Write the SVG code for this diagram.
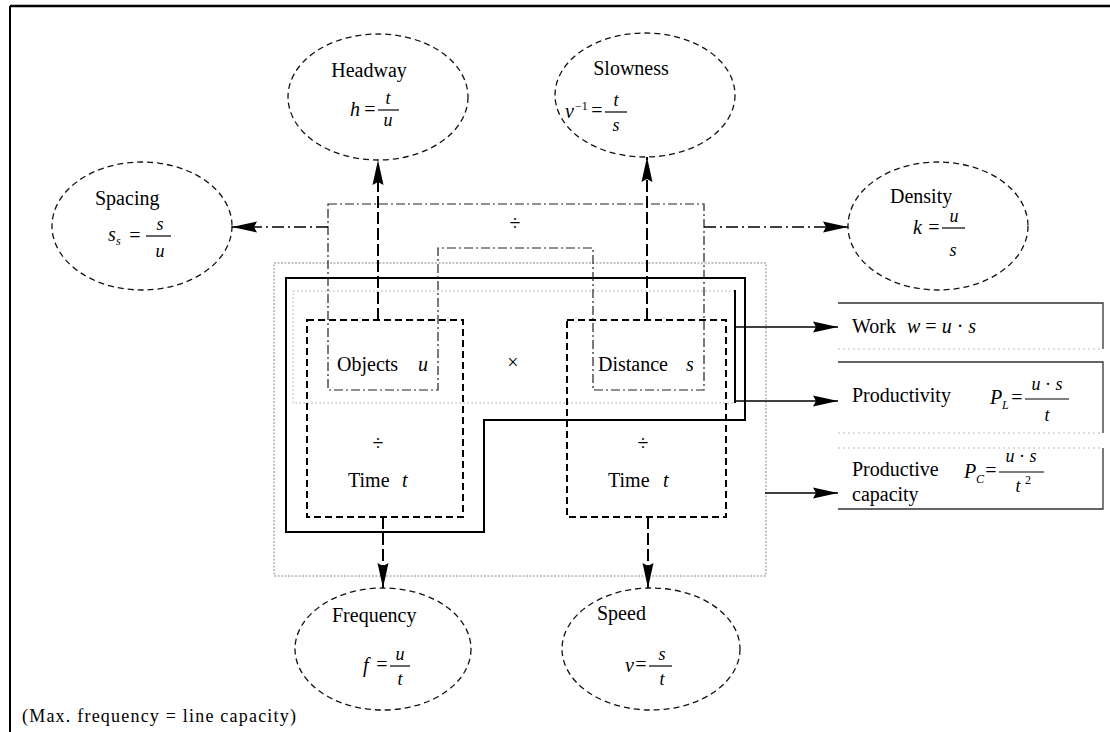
<svg xmlns="http://www.w3.org/2000/svg" width="1110" height="732" viewBox="0 0 1110 732">
<style>
text{font-family:"Liberation Serif","Times New Roman",serif;fill:#000}
.lbl{font-size:20px}
.op{font-size:20px}
.i{font-style:italic}
.var{font-size:20px;font-style:italic}
.sm{font-size:18px;font-style:italic}
.sub{font-size:12px;font-style:italic}
.ell{fill:none;stroke:#111;stroke-width:1.3;stroke-dasharray:6 4}
.bar{stroke:#000;stroke-width:1.2}
.dbox{fill:none;stroke:#000;stroke-width:2;stroke-dasharray:7 4}
.ddot{fill:none;stroke:#222;stroke-width:1.2;stroke-dasharray:9 3 2 3}
.thick{fill:none;stroke:#000;stroke-width:2}
.dashc{fill:none;stroke:#000;stroke-width:2;stroke-dasharray:12 4}
.ddc{fill:none;stroke:#000;stroke-width:1.6;stroke-dasharray:12 4 2 4}
.sol{fill:none;stroke:#000;stroke-width:1.6}
</style>
<defs>
<marker id="ah" markerUnits="userSpaceOnUse" markerWidth="26" markerHeight="12" refX="25" refY="6" orient="auto">
<path d="M0,0.5 L25,6 L0,11.5 L3,6 z" fill="#000"/>
</marker>
</defs>
<rect x="0" y="0" width="1110" height="732" fill="#fff"/>
<g id="frame">
<line x1="10" y1="6" x2="1110" y2="6" stroke="#000" stroke-width="2.5"/>
<line x1="10" y1="6" x2="10" y2="732" stroke="#000" stroke-width="2"/>
</g>
<g id="core">
<rect x="274" y="263" width="492" height="313" fill="none" stroke="#888" stroke-width="1" stroke-dasharray="2 1.5"/>
<rect x="293" y="291" width="442" height="112" fill="none" stroke="#aaa" stroke-width="1" stroke-dasharray="1.5 2.5"/>
<path class="thick" d="M286,278 H745 V420 H484 V532 H286 Z"/>
<line x1="735" y1="290" x2="735" y2="403" class="thick"/>
<path class="ddot" d="M328,204 H704 V390 H593 V248 H438 V390 H328 Z"/>
<text x="515" y="230" class="op" text-anchor="middle">÷</text>
</g>
<g id="objects">
<rect class="dbox" x="307" y="320" width="156" height="197"/>
<text x="337" y="371" class="lbl">Objects</text>
<text x="418" y="371" class="var">u</text>
<text x="378" y="450" class="op" text-anchor="middle">÷</text>
<text x="348" y="487" class="lbl">Time</text>
<text x="402" y="487" class="var">t</text>
</g>
<text x="513" y="369" class="op" text-anchor="middle">×</text>
<g id="distance">
<rect class="dbox" x="567" y="320" width="159" height="197"/>
<text x="598" y="371" class="lbl">Distance</text>
<text x="686" y="371" class="var">s</text>
<text x="643" y="450" class="op" text-anchor="middle">÷</text>
<text x="608" y="487" class="lbl">Time</text>
<text x="663" y="487" class="var">t</text>
</g>
<g id="connectors">
<line class="dashc" x1="378" y1="320" x2="378" y2="160" marker-end="url(#ah)"/>
<line class="dashc" x1="647" y1="320" x2="647" y2="157" marker-end="url(#ah)"/>
<line class="dashc" x1="383" y1="517" x2="383" y2="588" marker-end="url(#ah)"/>
<line class="dashc" x1="648" y1="517" x2="648" y2="588" marker-end="url(#ah)"/>
<line class="ddc" x1="328" y1="227" x2="232" y2="227" marker-end="url(#ah)"/>
<line class="ddc" x1="704" y1="227" x2="848" y2="227" marker-end="url(#ah)"/>
<line class="sol" x1="735" y1="327" x2="838" y2="327" marker-end="url(#ah)"/>
<line class="sol" x1="735" y1="401" x2="838" y2="401" marker-end="url(#ah)"/>
<line class="sol" x1="765" y1="493" x2="838" y2="493" marker-end="url(#ah)"/>
</g>
<g id="headway">
<ellipse class="ell" cx="378" cy="97" rx="90" ry="63"/>
<text x="369" y="77" class="lbl" text-anchor="middle">Headway</text>
<text x="350" y="116" class="var">h</text>
<text x="370" y="116" class="op" text-anchor="middle">=</text>
<line class="bar" x1="378" y1="110" x2="399" y2="110"/>
<text x="388" y="104" class="sm" text-anchor="middle">t</text>
<text x="388" y="126" class="sm" text-anchor="middle">u</text>
</g>
<g id="slowness">
<ellipse class="ell" cx="645" cy="95" rx="90" ry="62"/>
<text x="631" y="75" class="lbl" text-anchor="middle">Slowness</text>
<text x="565" y="118" class="var">v</text>
<text x="575" y="110" class="sub" style="font-style:normal">−1</text>
<text x="597" y="117" class="op" text-anchor="middle">=</text>
<line class="bar" x1="605" y1="112" x2="627" y2="112"/>
<text x="616" y="106" class="sm" text-anchor="middle">t</text>
<text x="616" y="131" class="sm" text-anchor="middle">s</text>
</g>
<g id="spacing">
<ellipse class="ell" cx="142" cy="226" rx="90" ry="64"/>
<text x="95" y="205" class="lbl">Spacing</text>
<text x="108" y="241" class="var">s</text>
<text x="116" y="245" class="sub">s</text>
<text x="135" y="242" class="op" text-anchor="middle">=</text>
<line class="bar" x1="146" y1="236" x2="171" y2="236"/>
<text x="160" y="230" class="sm" text-anchor="middle">s</text>
<text x="160" y="257" class="sm" text-anchor="middle">u</text>
</g>
<g id="density">
<ellipse class="ell" cx="938" cy="226" rx="90" ry="64"/>
<text x="890" y="203" class="lbl">Density</text>
<text x="913" y="234" class="var">k</text>
<text x="934" y="234" class="op" text-anchor="middle">=</text>
<line class="bar" x1="942" y1="228" x2="965" y2="228"/>
<text x="954" y="222" class="sm" text-anchor="middle">u</text>
<text x="953" y="256" class="sm" text-anchor="middle">s</text>
</g>
<g id="frequency">
<ellipse class="ell" cx="383" cy="649" rx="88" ry="61"/>
<text x="332" y="622" class="lbl">Frequency</text>
<text x="363" y="672" class="var">f</text>
<text x="382" y="671" class="op" text-anchor="middle">=</text>
<line class="bar" x1="390" y1="666" x2="410" y2="666"/>
<text x="400" y="660" class="sm" text-anchor="middle">u</text>
<text x="400" y="685" class="sm" text-anchor="middle">t</text>
</g>
<g id="speed">
<ellipse class="ell" cx="651" cy="649" rx="89" ry="61"/>
<text x="597" y="620" class="lbl">Speed</text>
<text x="625" y="672" class="var">v</text>
<text x="641" y="671" class="op" text-anchor="middle">=</text>
<line class="bar" x1="649" y1="666" x2="672" y2="666"/>
<text x="662" y="660" class="sm" text-anchor="middle">s</text>
<text x="662" y="685" class="sm" text-anchor="middle">t</text>
</g>
<g id="work">
<path d="M838,303 H1103 V349" fill="none" stroke="#333" stroke-width="1.3"/>
<line x1="838" y1="349" x2="1103" y2="349" stroke="#bbb" stroke-width="1" stroke-dasharray="2 3"/>
<text x="852" y="333" class="lbl">Work</text>
<text x="907" y="333" class="lbl"><tspan class="i">w</tspan> = <tspan class="i">u</tspan> · <tspan class="i">s</tspan></text>
</g>
<g id="productivity">
<path d="M838,362 H1103 V433" fill="none" stroke="#333" stroke-width="1.3"/>
<line x1="838" y1="433" x2="1103" y2="433" stroke="#bbb" stroke-width="1" stroke-dasharray="2 3"/>
<text x="852" y="402" class="lbl">Productivity</text>
<text x="990" y="404" class="var">P</text>
<text x="1002" y="409" class="sub">L</text>
<text x="1017" y="404" class="op" text-anchor="middle">=</text>
<line class="bar" x1="1025" y1="399" x2="1069" y2="399"/>
<text x="1047" y="390" class="sm" text-anchor="middle">u<tspan style="font-style:normal"> · </tspan>s</text>
<text x="1047" y="421" class="sm" text-anchor="middle">t</text>
</g>
<g id="capacity">
<line x1="838" y1="448" x2="1103" y2="448" stroke="#bbb" stroke-width="1" stroke-dasharray="2 3"/>
<path d="M1103,448 V509 H838" fill="none" stroke="#333" stroke-width="1.3"/>
<text x="852" y="476" class="lbl">Productive</text>
<text x="852" y="501" class="lbl">capacity</text>
<text x="964" y="478" class="var">P</text>
<text x="976" y="483" class="sub">C</text>
<text x="991" y="477" class="op" text-anchor="middle">=</text>
<line class="bar" x1="999" y1="472" x2="1044" y2="472"/>
<text x="1021" y="462" class="sm" text-anchor="middle">u<tspan style="font-style:normal"> · </tspan>s</text>
<text x="1018" y="492" class="sm" text-anchor="middle">t</text>
<text x="1025" y="484" class="sub" style="font-style:normal">2</text>
</g>
<text x="22" y="722" style="font-size:18px" textLength="274" lengthAdjust="spacing">(Max. frequency = line capacity)</text>
</svg>
